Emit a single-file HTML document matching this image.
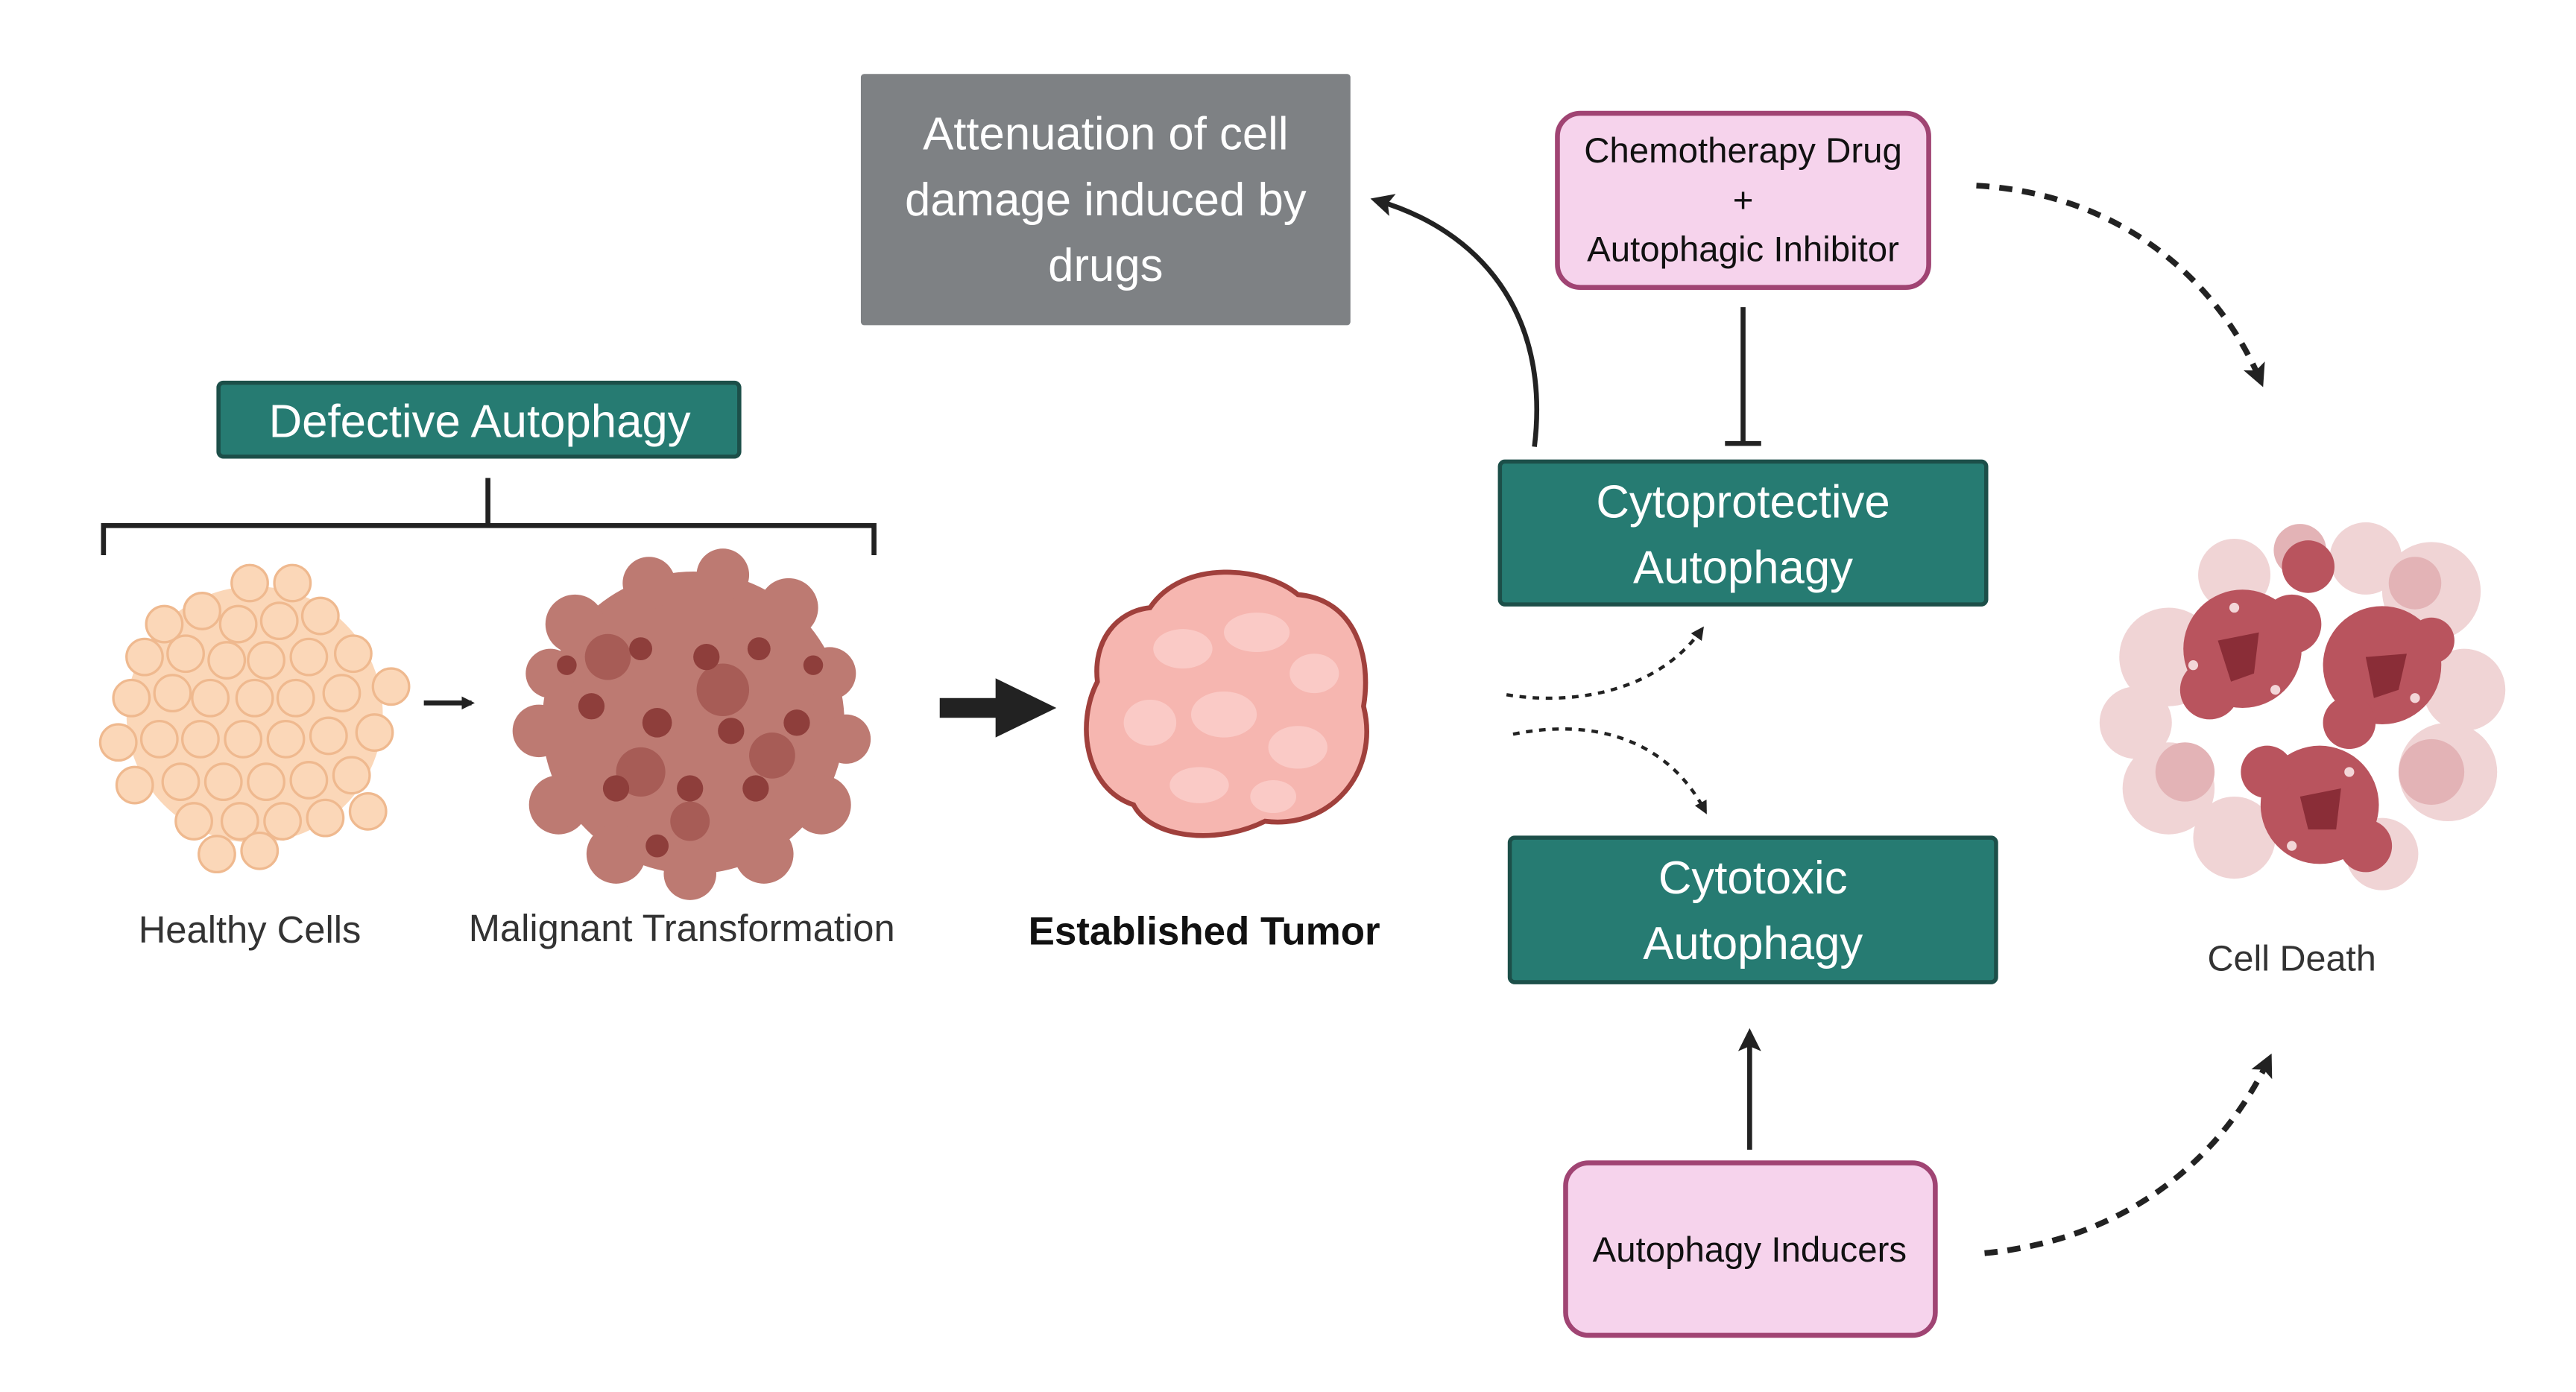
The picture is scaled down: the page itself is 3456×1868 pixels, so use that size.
<!DOCTYPE html>
<html><head><meta charset="utf-8"><style>
html,body{margin:0;padding:0;background:#fff;}
svg{display:block}
text{font-family:"Liberation Sans",sans-serif;}
</style></head><body>
<svg width="3456" height="1868" viewBox="0 0 1568 847.5" xmlns="http://www.w3.org/2000/svg">
<defs>
<marker id="ah" markerWidth="8" markerHeight="8" refX="6" refY="4" orient="auto" markerUnits="userSpaceOnUse"><path d="M0,0 L8,4 L0,8 Z" fill="#222"/></marker>
<marker id="ahb" markerWidth="14" markerHeight="14" refX="10" refY="7" orient="auto" markerUnits="userSpaceOnUse"><path d="M0,0 L14,7 L0,14 L3,7 Z" fill="#222"/></marker>
</defs>
<rect width="1568" height="847.5" fill="#fff"/>

<rect x="524" y="45" width="298" height="153" fill="#7e8184" rx="2"/>
<text x="673" y="91" font-size="28" fill="#fff" text-anchor="middle">Attenuation of cell</text>
<text x="673" y="131" font-size="28" fill="#fff" text-anchor="middle">damage induced  by</text>
<text x="673" y="171" font-size="28" fill="#fff" text-anchor="middle">drugs</text>

<rect x="948" y="69" width="226" height="106" rx="14" fill="#f6d3ec" stroke="#a04473" stroke-width="3"/>
<text x="1061" y="99" font-size="21.5" fill="#111" text-anchor="middle">Chemotherapy Drug</text>
<text x="1061" y="129" font-size="21.5" fill="#111" text-anchor="middle">+</text>
<text x="1061" y="159" font-size="21.5" fill="#111" text-anchor="middle">Autophagic Inhibitor</text>

<line x1="1061" y1="187" x2="1061" y2="270" stroke="#222" stroke-width="3"/>
<line x1="1050" y1="270" x2="1072" y2="270" stroke="#222" stroke-width="3"/>

<path d="M934,272 C944,190 900,140 838,122" fill="none" stroke="#222" stroke-width="3" marker-end="url(#ahb)"/>

<rect x="133" y="233" width="317" height="45" rx="3" fill="#267b72" stroke="#1c4f49" stroke-width="2.5"/>
<text x="292" y="266" font-size="28" fill="#fff" text-anchor="middle">Defective Autophagy</text>
<path d="M297,291 V320 M63,338 V320 H532 V338" fill="none" stroke="#222" stroke-width="3"/>

<rect x="913" y="281" width="296" height="87" rx="3" fill="#267b72" stroke="#1c4f49" stroke-width="2.5"/>
<text x="1061" y="315" font-size="28" fill="#fff" text-anchor="middle">Cytoprotective</text>
<text x="1061" y="355" font-size="28" fill="#fff" text-anchor="middle">Autophagy</text>

<rect x="919" y="510" width="296" height="88" rx="3" fill="#267b72" stroke="#1c4f49" stroke-width="2.5"/>
<text x="1067" y="544" font-size="28" fill="#fff" text-anchor="middle">Cytotoxic</text>
<text x="1067" y="584" font-size="28" fill="#fff" text-anchor="middle">Autophagy</text>

<rect x="953" y="708" width="225" height="105" rx="14" fill="#f6d3ec" stroke="#a04473" stroke-width="3"/>
<text x="1065" y="768" font-size="21.5" fill="#111" text-anchor="middle">Autophagy Inducers</text>
<line x1="1065" y1="700" x2="1065" y2="630" stroke="#222" stroke-width="3" marker-end="url(#ahb)"/>

<path d="M917,423 C960,430 1010,420 1036,383" fill="none" stroke="#222" stroke-width="2" stroke-dasharray="4,4" marker-end="url(#ah)"/>
<path d="M921,447 C970,437 1015,450 1038,494" fill="none" stroke="#222" stroke-width="2" stroke-dasharray="4,4" marker-end="url(#ah)"/>
<path d="M1203,113 C1290,118 1350,170 1376,232" fill="none" stroke="#222" stroke-width="3.5" stroke-dasharray="8,6" marker-end="url(#ahb)"/>
<path d="M1208,763 C1290,755 1350,710 1381,645" fill="none" stroke="#222" stroke-width="3.5" stroke-dasharray="8,6" marker-end="url(#ahb)"/>

<!-- Healthy cells -->
<g fill="#fbd7b8" stroke="#efb98f" stroke-width="1.5">
<circle cx="155" cy="435" r="78" fill="#fbd7b8" stroke="none"/>
<circle cx="100" cy="380" r="11"/><circle cx="123" cy="372" r="11"/><circle cx="152" cy="355" r="11"/><circle cx="178" cy="355" r="11"/>
<circle cx="145" cy="380" r="11"/><circle cx="170" cy="378" r="11"/><circle cx="195" cy="375" r="11"/>
<circle cx="88" cy="400" r="11"/><circle cx="113" cy="398" r="11"/><circle cx="138" cy="402" r="11"/><circle cx="162" cy="402" r="11"/><circle cx="188" cy="400" r="11"/><circle cx="215" cy="398" r="11"/>
<circle cx="80" cy="425" r="11"/><circle cx="105" cy="422" r="11"/><circle cx="128" cy="425" r="11"/><circle cx="155" cy="425" r="11"/><circle cx="180" cy="425" r="11"/><circle cx="208" cy="422" r="11"/><circle cx="238" cy="418" r="11"/>
<circle cx="72" cy="452" r="11"/><circle cx="97" cy="450" r="11"/><circle cx="122" cy="450" r="11"/><circle cx="148" cy="450" r="11"/><circle cx="174" cy="450" r="11"/><circle cx="200" cy="448" r="11"/><circle cx="228" cy="446" r="11"/>
<circle cx="82" cy="478" r="11"/><circle cx="110" cy="476" r="11"/><circle cx="136" cy="476" r="11"/><circle cx="162" cy="476" r="11"/><circle cx="188" cy="475" r="11"/><circle cx="214" cy="472" r="11"/>
<circle cx="118" cy="500" r="11"/><circle cx="146" cy="500" r="11"/><circle cx="172" cy="500" r="11"/><circle cx="198" cy="498" r="11"/><circle cx="224" cy="494" r="11"/>
<circle cx="132" cy="520" r="11"/><circle cx="158" cy="518" r="11"/>
</g>
<text x="152" y="574" font-size="23" fill="#333" text-anchor="middle">Healthy Cells</text>
<line x1="258" y1="428" x2="287" y2="428" stroke="#222" stroke-width="3" marker-end="url(#ah)"/>

<!-- Malignant -->
<g fill="#bd7a72">
<circle cx="422" cy="440" r="92"/>
<circle cx="350" cy="380" r="18"/><circle cx="395" cy="355" r="16"/><circle cx="440" cy="350" r="16"/><circle cx="480" cy="370" r="18"/>
<circle cx="505" cy="410" r="16"/><circle cx="515" cy="450" r="15"/><circle cx="500" cy="490" r="18"/><circle cx="465" cy="520" r="18"/>
<circle cx="420" cy="532" r="16"/><circle cx="375" cy="520" r="18"/><circle cx="340" cy="490" r="18"/><circle cx="328" cy="445" r="16"/><circle cx="335" cy="410" r="15"/>
</g>
<g fill="#a75c56"><circle cx="370" cy="400" r="14"/><circle cx="440" cy="420" r="16"/><circle cx="390" cy="470" r="15"/><circle cx="470" cy="460" r="14"/><circle cx="420" cy="500" r="12"/></g>
<g fill="#8e3e3b"><circle cx="390" cy="395" r="7"/><circle cx="430" cy="400" r="8"/><circle cx="462" cy="395" r="7"/><circle cx="360" cy="430" r="8"/><circle cx="400" cy="440" r="9"/><circle cx="445" cy="445" r="8"/><circle cx="485" cy="440" r="8"/><circle cx="375" cy="480" r="8"/><circle cx="420" cy="480" r="8"/><circle cx="460" cy="480" r="8"/><circle cx="400" cy="515" r="7"/><circle cx="495" cy="405" r="6"/><circle cx="345" cy="405" r="6"/></g>
<text x="415" y="573" font-size="23" fill="#333" text-anchor="middle">Malignant Transformation</text>

<path d="M572,425 H606 V413 L643,431 L606,449 V437 H572 Z" fill="#222"/>

<path d="M700,370 C720,340 770,345 790,362 C825,365 835,400 830,430 C840,470 810,505 770,500 C740,515 700,510 690,490 C660,480 655,440 668,415 C665,390 680,372 700,370 Z" fill="#f6b6b0" stroke="#a0403c" stroke-width="3"/>
<g fill="#fbd0cc" opacity="0.8"><ellipse cx="720" cy="395" rx="18" ry="12"/><ellipse cx="765" cy="385" rx="20" ry="12"/><ellipse cx="800" cy="410" rx="15" ry="12"/><ellipse cx="700" cy="440" rx="16" ry="14"/><ellipse cx="745" cy="435" rx="20" ry="14"/><ellipse cx="790" cy="455" rx="18" ry="13"/><ellipse cx="730" cy="478" rx="18" ry="11"/><ellipse cx="775" cy="485" rx="14" ry="10"/></g>
<text x="733" y="575" font-size="24" font-weight="bold" fill="#111" text-anchor="middle">Established Tumor</text>

<!-- Cell death: irregular splotches -->
<g fill="#f0d4d5">
<circle cx="1320" cy="400" r="30"/><circle cx="1300" cy="440" r="22"/><circle cx="1320" cy="480" r="28"/><circle cx="1360" cy="510" r="25"/>
<circle cx="1480" cy="360" r="30"/><circle cx="1500" cy="420" r="25"/><circle cx="1490" cy="470" r="30"/><circle cx="1450" cy="520" r="22"/>
<circle cx="1360" cy="350" r="22"/><circle cx="1440" cy="340" r="22"/>
</g>
<g fill="#e3b3b6"><circle cx="1330" cy="470" r="18"/><circle cx="1480" cy="470" r="20"/><circle cx="1400" cy="335" r="16"/><circle cx="1470" cy="355" r="16"/></g>
<g fill="#b9545e">
<circle cx="1365" cy="395" r="36"/><circle cx="1345" cy="420" r="18"/><circle cx="1395" cy="380" r="18"/>
<circle cx="1450" cy="405" r="36"/><circle cx="1480" cy="390" r="14"/><circle cx="1430" cy="440" r="16"/>
<circle cx="1412" cy="490" r="36"/><circle cx="1380" cy="470" r="16"/><circle cx="1440" cy="515" r="16"/>
<circle cx="1405" cy="345" r="16"/>
</g>
<g fill="#8a2d37"><path d="M1350,390 L1375,385 L1372,410 L1358,415 Z"/><path d="M1440,400 L1465,398 L1460,420 L1445,425 Z"/><path d="M1400,485 L1425,480 L1422,505 L1405,505 Z"/></g>
<g fill="#f3d6d8"><circle cx="1335" cy="405" r="3"/><circle cx="1385" cy="420" r="3"/><circle cx="1470" cy="425" r="3"/><circle cx="1430" cy="470" r="3"/><circle cx="1395" cy="515" r="3"/><circle cx="1360" cy="370" r="3"/></g>
<text x="1395" y="591" font-size="22" fill="#333" text-anchor="middle">Cell Death</text>
</svg>
</body></html>
